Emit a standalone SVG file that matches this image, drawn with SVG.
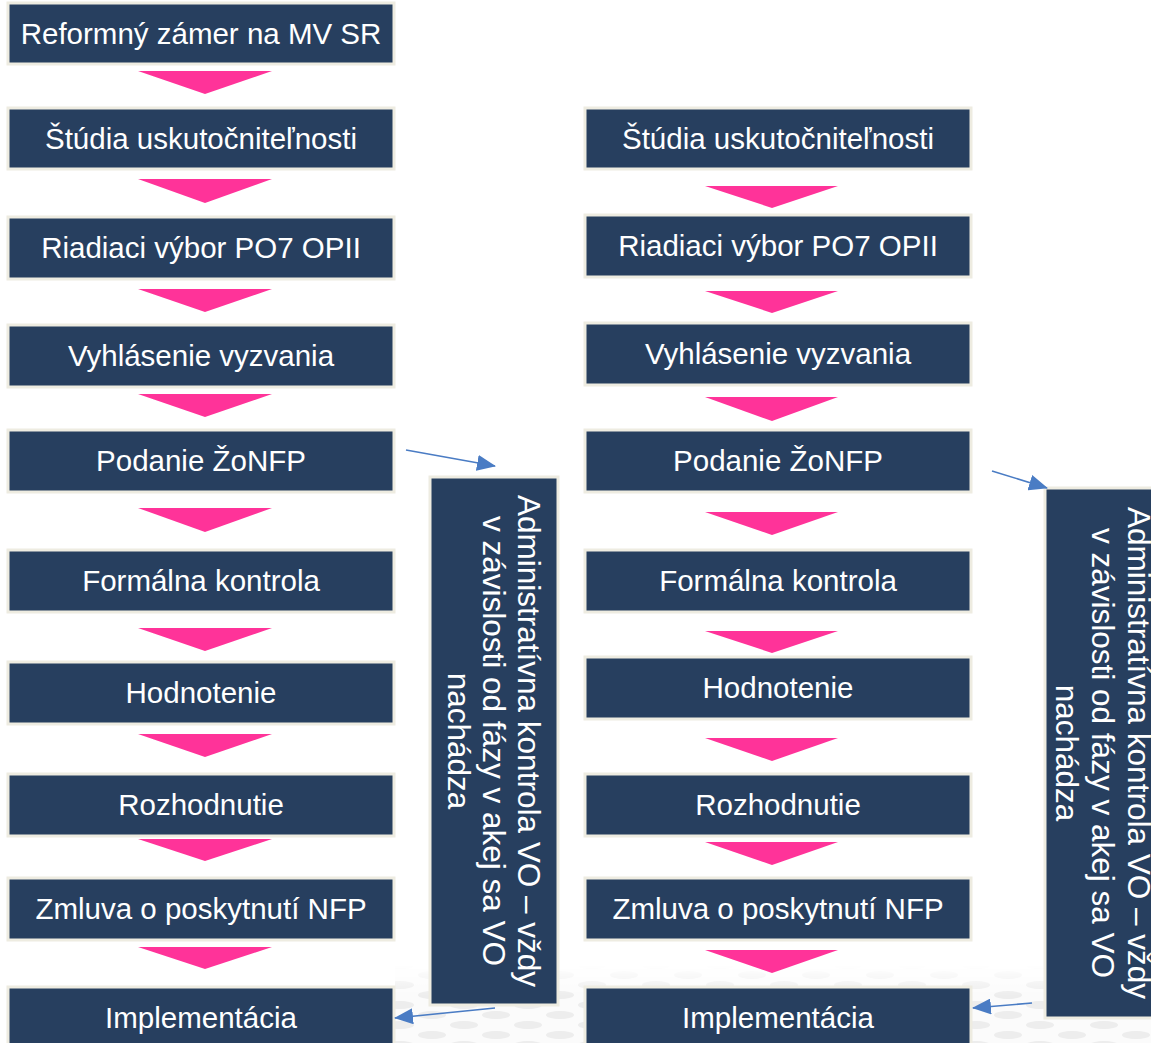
<svg xmlns="http://www.w3.org/2000/svg" width="1151" height="1043" viewBox="0 0 1151 1043">
<style>
.box{fill:#273F5F;stroke:#EEECE1;stroke-width:3}
.lbl{fill:#FFFFFF;font-family:"Liberation Sans",Arial,sans-serif;font-size:29.5px;text-anchor:middle}
.vlbl{fill:#FFFFFF;font-family:"Liberation Sans",Arial,sans-serif;font-size:31.5px;text-anchor:middle}
.chev{fill:#FF3399}
.conn{stroke:#4A7CC4;stroke-width:1.6;fill:none}
</style>
<defs>
<marker id="ah" markerUnits="userSpaceOnUse" markerWidth="20" markerHeight="16" refX="18" refY="8" orient="auto">
<path d="M0,0 L19,8 L0,16 z" fill="#4A7CC4"/>
</marker>
<pattern id="hex" patternUnits="userSpaceOnUse" width="64" height="20">
<rect width="64" height="20" fill="#FAFAFA"/>
<ellipse cx="16" cy="5" rx="14" ry="4" fill="#E8E8E8"/>
<ellipse cx="48" cy="15" rx="14" ry="4" fill="#E8E8E8"/>
<ellipse cx="-16" cy="15" rx="14" ry="4" fill="#E8E8E8"/>
<ellipse cx="80" cy="5" rx="14" ry="4" fill="#E8E8E8"/>
</pattern>
<linearGradient id="fade" x1="0" y1="0" x2="0" y2="1">
<stop offset="0" stop-color="#fff" stop-opacity="0"/>
<stop offset="0.4" stop-color="#fff" stop-opacity="0.8"/>
</linearGradient>
<mask id="fm"><rect x="395" y="965" width="756" height="78" fill="url(#fade)"/></mask>
</defs>
<rect width="1151" height="1043" fill="#FFFFFF"/>
<rect x="395" y="965" width="756" height="78" fill="url(#hex)" mask="url(#fm)"/>

<g id="left-column">
<g id="L1"><rect class="box" x="8" y="3" width="386" height="61"/><text class="lbl" x="201" y="43.5">Reformný zámer na MV SR</text></g>
<g id="L2"><rect class="box" x="8" y="108" width="386" height="61"/><text class="lbl" x="201" y="148.5">Štúdia uskutočniteľnosti</text></g>
<g id="L3"><rect class="box" x="8" y="217" width="386" height="62"/><text class="lbl" x="201" y="258">Riadiaci výbor PO7 OPII</text></g>
<g id="L4"><rect class="box" x="8" y="325" width="386" height="62"/><text class="lbl" x="201" y="366">Vyhlásenie vyzvania</text></g>
<g id="L5"><rect class="box" x="8" y="430" width="386" height="62"/><text class="lbl" x="201" y="471">Podanie ŽoNFP</text></g>
<g id="L6"><rect class="box" x="8" y="550" width="386" height="62"/><text class="lbl" x="201" y="591">Formálna kontrola</text></g>
<g id="L7"><rect class="box" x="8" y="662" width="386" height="62"/><text class="lbl" x="201" y="703">Hodnotenie</text></g>
<g id="L8"><rect class="box" x="8" y="774" width="386" height="62"/><text class="lbl" x="201" y="815">Rozhodnutie</text></g>
<g id="L9"><rect class="box" x="8" y="878" width="386" height="62"/><text class="lbl" x="201" y="919">Zmluva o poskytnutí NFP</text></g>
<g id="L10"><rect class="box" x="8" y="987" width="386" height="62"/><text class="lbl" x="201" y="1028">Implementácia</text></g>
</g>

<g id="right-column">
<g id="R1"><rect class="box" x="585" y="108" width="386" height="61"/><text class="lbl" x="778" y="148.5">Štúdia uskutočniteľnosti</text></g>
<g id="R2"><rect class="box" x="585" y="215" width="386" height="62"/><text class="lbl" x="778" y="256">Riadiaci výbor PO7 OPII</text></g>
<g id="R3"><rect class="box" x="585" y="323" width="386" height="62"/><text class="lbl" x="778" y="364">Vyhlásenie vyzvania</text></g>
<g id="R4"><rect class="box" x="585" y="430" width="386" height="62"/><text class="lbl" x="778" y="471">Podanie ŽoNFP</text></g>
<g id="R5"><rect class="box" x="585" y="550" width="386" height="62"/><text class="lbl" x="778" y="591">Formálna kontrola</text></g>
<g id="R6"><rect class="box" x="585" y="657" width="386" height="62"/><text class="lbl" x="778" y="698">Hodnotenie</text></g>
<g id="R7"><rect class="box" x="585" y="774" width="386" height="62"/><text class="lbl" x="778" y="815">Rozhodnutie</text></g>
<g id="R8"><rect class="box" x="585" y="878" width="386" height="62"/><text class="lbl" x="778" y="919">Zmluva o poskytnutí NFP</text></g>
<g id="R9"><rect class="box" x="585" y="987" width="386" height="62"/><text class="lbl" x="778" y="1028">Implementácia</text></g>
</g>

<g id="VO-left">
<rect class="box" x="430" y="477" width="128" height="528"/>
<text class="vlbl" transform="rotate(90 518 741)" x="518" y="741">Administratívna kontrola VO – vždy</text>
<text class="vlbl" transform="rotate(90 483 741)" x="483" y="741">v závislosti od fázy v akej sa VO</text>
<text class="vlbl" transform="rotate(90 448 741)" x="448" y="741">nachádza</text>
</g>

<g id="VO-right">
<rect class="box" x="1045" y="488" width="130" height="530"/>
<text class="vlbl" transform="rotate(90 1128 753)" x="1128" y="753">Administratívna kontrola VO – vždy</text>
<text class="vlbl" transform="rotate(90 1092 753)" x="1092" y="753">v závislosti od fázy v akej sa VO</text>
<text class="vlbl" transform="rotate(90 1056 753)" x="1056" y="753">nachádza</text>
</g>

<g id="connectors">
<g id="chevrons-left">
<polygon class="chev" points="138,71 272,71 205,94"/>
<polygon class="chev" points="138,179 272,179 205,203"/>
<polygon class="chev" points="138,289 272,289 205,312"/>
<polygon class="chev" points="138,394 272,394 205,417"/>
<polygon class="chev" points="138,508 272,508 205,532"/>
<polygon class="chev" points="138,628 272,628 205,651"/>
<polygon class="chev" points="138,734 272,734 205,757"/>
<polygon class="chev" points="138,839 272,839 205,861"/>
<polygon class="chev" points="138,947 272,947 205,969"/>
</g>
<g id="chevrons-right">
<polygon class="chev" points="705,186 838,186 772,208"/>
<polygon class="chev" points="705,291 838,291 772,313"/>
<polygon class="chev" points="705,397 838,397 772,421"/>
<polygon class="chev" points="705,512 838,512 772,535"/>
<polygon class="chev" points="705,631 838,631 772,653"/>
<polygon class="chev" points="705,738 838,738 772,761"/>
<polygon class="chev" points="705,842 838,842 772,865"/>
<polygon class="chev" points="705,950 838,950 772,973"/>
</g>
<line class="conn" x1="406" y1="450" x2="495" y2="466" marker-end="url(#ah)"/>
<line class="conn" x1="992" y1="471" x2="1047" y2="488" marker-end="url(#ah)"/>
<line class="conn" x1="495" y1="1008" x2="395" y2="1018" marker-end="url(#ah)"/>
<line class="conn" x1="1032" y1="1003" x2="973" y2="1008" marker-end="url(#ah)"/>
</g>
</svg>
